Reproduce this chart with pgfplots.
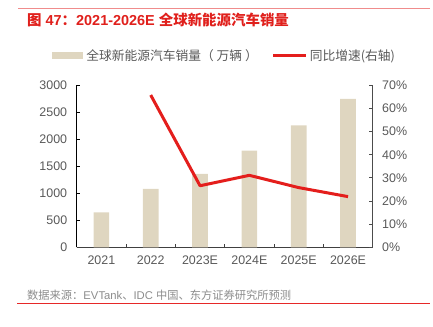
\documentclass[border=0pt]{standalone}
\usepackage{pgfplots}
\pgfplotsset{compat=1.18}
\usepackage{fontspec}
\setmainfont{Liberation Sans}
\newfontfamily\cjk{Noto Sans CJK SC}
\definecolor{barc}{RGB}{223,214,192}
\definecolor{linec}{RGB}{228,30,28}
\definecolor{tickc}{RGB}{89,89,89}
\definecolor{titlec}{RGB}{224,32,28}
\definecolor{toplinec}{RGB}{240,140,140}
\definecolor{botlinec}{RGB}{230,40,40}
\definecolor{capc}{RGB}{140,140,140}
\begin{document}
\begin{tikzpicture}
\useasboundingbox (0,0) rectangle (433bp,-327bp);
\draw[toplinec, line width=0.8bp] (18bp,-8.3bp) -- (430bp,-8.3bp);
\node[anchor=west, text=titlec, font=\fontsize{14.5}{16}\selectfont\bfseries, inner sep=0pt] at (27bp,-20bp) {{\cjk 图} 47{\cjk ：}2021-2026E {\cjk 全球新能源汽车销量}};
\begin{axis}[
  at={(76.7bp,-247.3bp)}, anchor=south west,
  scale only axis, width=296bp, height=162bp,
  xmin=-0.5, xmax=5.5, ymin=0, ymax=3000,
  axis y line*=left, axis x line*=bottom,
  ytick={0,500,...,3000},
  xtick={0,...,5}, xticklabels={2021,2022,2023E,2024E,2025E,2026E},
  minor xtick={0.5,1.5,2.5,3.5,4.5},
  major x tick style={draw=none},
  tick align=inside, major tick length=3.5bp, minor tick length=3.5bp,
  x axis line style={color=black!75, line width=1.6bp},
  y axis line style={color=black, line width=0.8bp},
  xtick style={color=black!75, line width=0.8bp},
  ytick style={color=black, line width=0.8bp},
  tick label style={text=tickc, font=\fontsize{12.5}{14}\selectfont},
  yticklabel style={xshift=-6bp},
  xticklabel style={yshift=-5bp},
  /pgf/number format/assume math mode=true,
  /pgf/number format/1000 sep={},
  clip=false,
]
\addplot[ybar, bar width=15.7bp, fill=barc, draw=none] coordinates {(0,648) (1,1080) (2,1360) (3,1790) (4,2260) (5,2750)};
\end{axis}
\begin{axis}[
  at={(76.7bp,-247.3bp)}, anchor=south west,
  scale only axis, width=296bp, height=162bp,
  xmin=-0.5, xmax=5.5, ymin=0, ymax=70,
  axis y line*=right, axis x line=none,
  ytick={0,10,...,70},
  yticklabel={\pgfmathprintnumber{\tick}\%},
  tick align=inside, major tick length=3.5bp,
  y axis line style={color=black!70, line width=1.2bp},
  ytick style={color=black!70, line width=0.8bp},
  tick label style={text=tickc, font=\fontsize{12.5}{14}\selectfont},
  yticklabel style={xshift=6bp},
  /pgf/number format/assume math mode=true,
  legend style={at={(0.5,1.184)}, anchor=center, draw=none, fill=none,
    legend columns=2, font=\cjk\fontsize{12.8}{14}\selectfont, text=tickc,
    /tikz/every even column/.append style={column sep=12bp}, inner sep=0pt},
  legend cell align=left,
]
\addlegendimage{legend image code/.code={\fill[barc] (0bp,-3bp) rectangle (30bp,3bp);}}
\addlegendentry{\hspace{1.5bp}全球新能源汽车销量（ 万辆 ）}
\addplot[linec, line width=3bp, line join=round, legend image code/.code={\draw[linec, line width=3bp] (0bp,0bp) -- (33bp,0bp);}] coordinates {(1,65.8) (2,26.6) (3,31.1) (4,25.8) (5,21.9)};
\addlegendentry{同比增速(右轴)}
\end{axis}
\node[anchor=west, text=capc, inner sep=0pt, font=\fontsize{11.3}{13}\selectfont] at (27bp,-295bp) {{\cjk 数据来源：}EVTank{\cjk 、}IDC {\cjk 中国、东方证券研究所预测}};
\draw[botlinec, line width=0.8bp] (17bp,-303.3bp) -- (430bp,-303.3bp);
\end{tikzpicture}
\end{document}
